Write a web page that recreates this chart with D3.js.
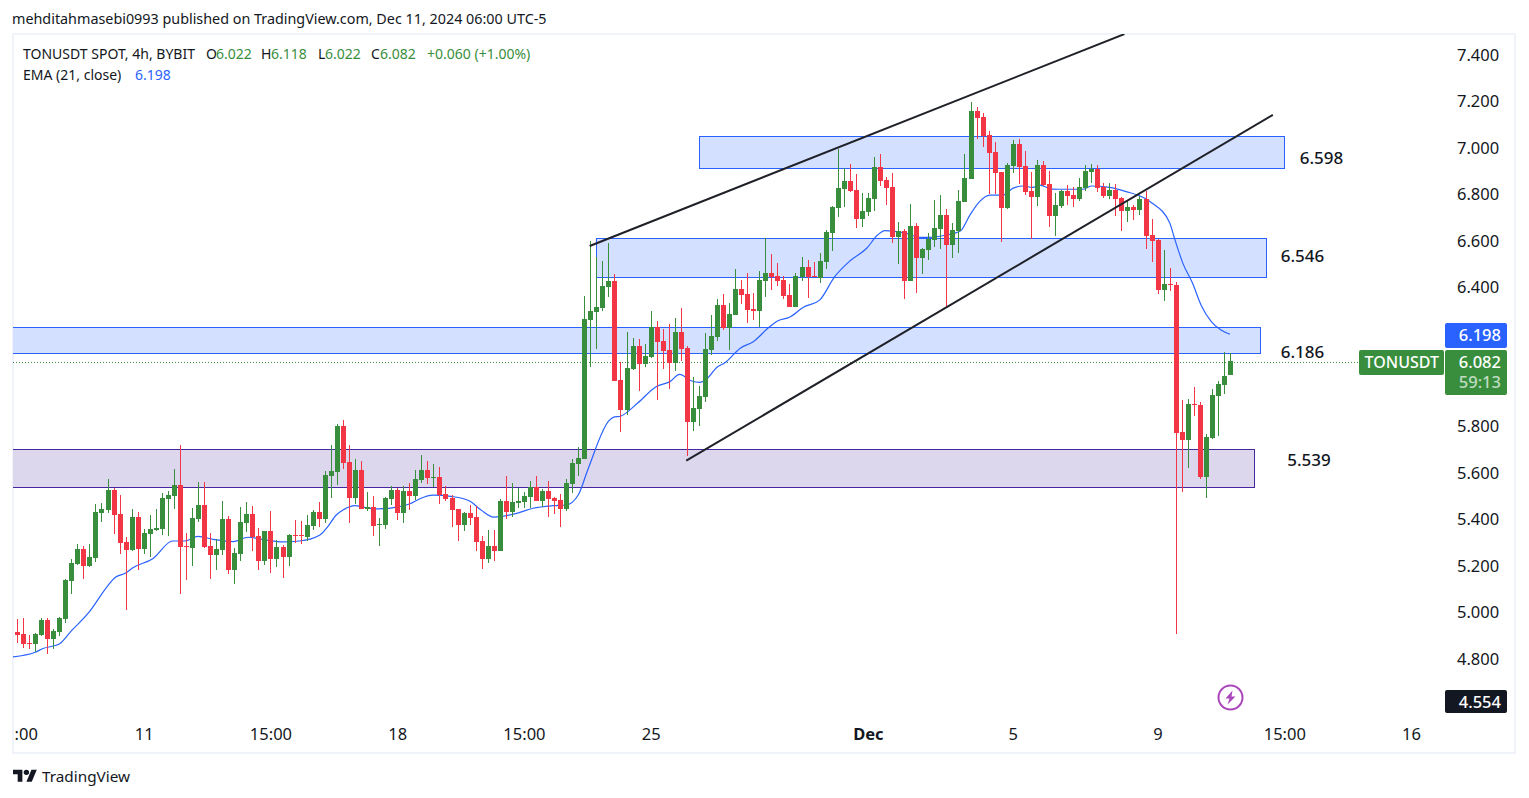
<!DOCTYPE html>
<html lang="en">
<script src="https://d3js.org/d3.v7.min.js"></script>
<style>
    html, body {margin: 0; background: white;}
    svg {display: block;}
    text {font-family: "Noto Sans", sans-serif; fill: #131722;}
    .axis text {font-size: 16.5px;}
    .axis path, .axis line {display: none;}
    .legend text {font-size: 14px;}
    .note {font-size: 17px; text-anchor: middle; font-weight: 500;}
</style>
<body>
    <svg width="1529" height="798"></svg>
</body>
<script>
    var opens = [
        4.916,4.908,4.869,4.866,4.903,4.968,4.886,4.916,4.972,5.136,
        5.209,5.274,5.200,5.235,5.429,5.441,5.528,5.424,5.304,5.269,
        5.411,5.274,5.338,5.355,5.360,5.489,5.502,5.549,5.286,5.278,
        5.403,5.463,5.286,5.248,5.269,5.403,5.183,5.252,5.385,5.424,
        5.330,5.222,5.351,5.231,5.282,5.239,5.334,5.334,5.325,5.373,
        5.433,5.403,5.588,5.605,5.803,5.648,5.493,5.614,5.446,5.454,
        5.377,5.377,5.489,5.528,5.429,5.523,5.502,5.571,5.614,5.579,
        5.583,5.510,5.493,5.446,5.377,5.429,5.411,5.308,5.231,5.286,
        5.265,5.480,5.433,5.472,5.476,5.497,5.539,5.480,5.523,5.493,
        5.485,5.446,5.553,5.639,5.661,6.259,6.293,6.310,6.401,6.427,
        6.000,5.872,6.048,6.147,6.070,6.100,6.229,6.169,6.130,6.074,
        6.207,6.139,5.820,5.876,5.928,6.130,6.186,6.324,6.225,6.281,
        6.393,6.371,6.307,6.298,6.427,6.462,6.449,6.431,6.367,6.315,
        6.444,6.487,6.449,6.440,6.509,6.634,6.741,6.823,6.857,6.819,
        6.694,6.724,6.780,6.918,6.862,6.832,6.617,6.642,6.427,6.664,
        6.526,6.560,6.604,6.651,6.711,6.582,6.642,6.767,6.866,7.159,
        7.133,7.056,6.982,6.896,6.741,6.922,7.017,6.922,6.815,6.789,
        6.926,6.845,6.707,6.750,6.814,6.797,6.780,6.827,6.896,6.909,
        6.832,6.793,6.819,6.784,6.728,6.746,6.733,6.780,6.625,6.604,
        6.388,6.414,6.410,5.777,5.743,5.898,5.893,5.583,5.751,5.932,
        5.979,6.022
    ];
    var highs = [
        4.971,4.977,4.903,4.912,4.977,4.977,4.929,4.979,5.143,5.231,
        5.295,5.286,5.295,5.467,5.472,5.575,5.536,5.506,5.325,5.446,
        5.433,5.360,5.420,5.446,5.515,5.523,5.618,5.721,5.342,5.450,
        5.562,5.562,5.342,5.317,5.480,5.416,5.278,5.454,5.476,5.459,
        5.364,5.351,5.437,5.312,5.291,5.338,5.398,5.394,5.420,5.441,
        5.476,5.609,5.721,5.812,5.829,5.721,5.661,5.652,5.519,5.502,
        5.407,5.497,5.545,5.536,5.545,5.558,5.614,5.678,5.652,5.639,
        5.627,5.545,5.506,5.446,5.433,5.463,5.459,5.330,5.355,5.355,
        5.489,5.588,5.558,5.536,5.519,5.566,5.588,5.532,5.566,5.497,
        5.510,5.575,5.661,5.713,6.362,6.599,6.530,6.513,6.590,6.457,
        6.078,6.207,6.181,6.177,6.156,6.298,6.255,6.220,6.242,6.268,
        6.311,6.147,6.014,5.975,6.203,6.281,6.350,6.371,6.333,6.479,
        6.431,6.462,6.375,6.469,6.612,6.543,6.505,6.449,6.414,6.462,
        6.530,6.517,6.509,6.548,6.647,6.750,6.995,6.913,6.931,6.888,
        6.806,6.806,6.961,6.974,6.875,6.892,6.681,6.651,6.759,6.677,
        6.569,6.634,6.776,6.797,6.737,6.677,6.819,6.974,7.198,7.176,
        7.150,7.073,7.025,6.896,6.935,7.034,7.038,6.987,6.896,6.948,
        6.943,6.901,6.806,6.819,6.840,6.832,6.870,6.926,6.931,6.926,
        6.849,6.849,6.845,6.789,6.776,6.754,6.793,6.814,6.694,6.608,
        6.560,6.483,6.423,5.915,5.919,5.971,5.906,5.768,5.962,5.997,
        6.121,6.118
    ];
    var lows = [
        4.870,4.849,4.845,4.832,4.899,4.822,4.845,4.899,4.955,5.080,
        5.205,5.144,5.196,5.218,5.390,5.429,5.338,5.252,5.011,5.265,
        5.183,5.252,5.239,5.351,5.334,5.330,5.446,5.080,5.140,5.200,
        5.390,5.278,5.144,5.183,5.248,5.166,5.123,5.222,5.347,5.265,
        5.183,5.205,5.170,5.196,5.149,5.200,5.299,5.295,5.308,5.355,
        5.368,5.385,5.493,5.549,5.618,5.385,5.467,5.446,5.437,5.330,
        5.286,5.360,5.463,5.398,5.385,5.441,5.485,5.558,5.553,5.540,
        5.467,5.480,5.368,5.308,5.351,5.377,5.265,5.187,5.213,5.222,
        5.265,5.403,5.411,5.450,5.450,5.450,5.480,5.454,5.411,5.424,
        5.368,5.437,5.515,5.588,5.661,6.057,6.134,6.298,6.358,5.996,
        5.777,5.850,6.043,5.953,6.057,6.096,5.915,6.048,5.962,6.040,
        6.083,5.674,5.781,5.803,5.906,6.109,6.169,6.216,6.130,6.281,
        6.328,6.246,6.259,6.229,6.358,6.388,6.405,6.350,6.315,6.315,
        6.427,6.354,6.444,6.419,6.479,6.556,6.702,6.746,6.810,6.655,
        6.660,6.707,6.728,6.836,6.754,6.591,6.500,6.350,6.427,6.375,
        6.457,6.517,6.573,6.565,6.315,6.526,6.548,6.767,6.866,7.038,
        7.004,6.802,6.802,6.595,6.737,6.892,6.845,6.797,6.608,6.750,
        6.836,6.660,6.621,6.741,6.754,6.744,6.771,6.814,6.849,6.810,
        6.784,6.780,6.707,6.642,6.681,6.690,6.711,6.565,6.509,6.371,
        6.341,6.384,4.907,5.519,5.622,5.846,5.575,5.493,5.747,5.760,
        5.941,6.022
    ];
    var closes = [
        4.903,4.866,4.866,4.908,4.968,4.886,4.921,4.975,5.140,5.213,
        5.274,5.200,5.239,5.433,5.446,5.528,5.420,5.299,5.269,5.411,
        5.274,5.342,5.360,5.364,5.493,5.506,5.549,5.282,5.282,5.407,
        5.463,5.282,5.248,5.274,5.403,5.183,5.256,5.390,5.424,5.325,
        5.222,5.351,5.231,5.282,5.239,5.334,5.330,5.330,5.377,5.433,
        5.403,5.592,5.609,5.803,5.644,5.493,5.614,5.446,5.454,5.373,
        5.381,5.493,5.528,5.429,5.523,5.502,5.575,5.614,5.579,5.583,
        5.506,5.489,5.441,5.377,5.429,5.407,5.304,5.231,5.286,5.265,
        5.480,5.433,5.476,5.480,5.502,5.539,5.480,5.523,5.489,5.480,
        5.446,5.558,5.644,5.665,6.264,6.298,6.315,6.405,6.427,5.996,
        5.872,6.052,6.147,6.070,6.104,6.229,6.164,6.126,6.074,6.207,
        6.134,5.820,5.880,5.932,6.134,6.190,6.324,6.225,6.285,6.393,
        6.367,6.302,6.298,6.431,6.462,6.443,6.427,6.362,6.315,6.449,
        6.487,6.444,6.444,6.513,6.638,6.746,6.827,6.857,6.815,6.694,
        6.728,6.784,6.918,6.857,6.827,6.617,6.642,6.427,6.664,6.526,
        6.565,6.608,6.655,6.711,6.582,6.647,6.771,6.871,7.159,7.129,
        7.051,6.978,6.892,6.741,6.926,7.017,6.918,6.810,6.789,6.926,
        6.840,6.707,6.754,6.814,6.793,6.780,6.832,6.901,6.909,6.827,
        6.793,6.819,6.780,6.728,6.746,6.733,6.780,6.621,6.599,6.388,
        6.414,6.410,5.773,5.743,5.898,5.893,5.583,5.756,5.936,5.984,
        6.018,6.082
    ];

    // EMA at these bars
    var emaBars = [-0.7,3,4.3,7,9,11.8,15,16.2,18,19.2,22.5,25.8,27.8,30,32.5,35.8,38.3,41.3,44,46.8,
        50.2,51.5,52.9,54,56,57.6,59.8,63.4,65,66.7,68.9,72.2,75,76.9,79,82.8,85.5,88.8,91,93,
        94.6,98.1,98.8,100.1,102.9,105.9,108.2,109.8,111.7,113.1,114.5,115.9,117.3,119.8,122,124.7,126.1,128,130.3,133,
        135.5,138,140.8,142.6,143.8,145.2,147.4,149.6,151.2,154,156.3,157.9,159.5,161.2,163.4,165,166.7,168.3,169.5,171.4,
        173.9,176.6,178,181,183.8,186.9,188,191,191.8,193.2,194.8,196.2,197.9,199.5,201];
    var emaValues = [4.809,4.829,4.845,4.865,4.921,4.997,5.114,5.150,5.170,5.193,5.232,5.308,5.308,5.328,5.315,5.305,5.324,5.312,5.304,5.308,
        5.334,5.370,5.420,5.441,5.460,5.453,5.446,5.456,5.467,5.489,5.505,5.499,5.480,5.441,5.411,5.427,5.449,5.460,5.463,5.506,
        5.616,5.826,5.840,5.846,5.903,5.972,5.994,6.025,5.998,5.991,6.011,6.054,6.075,6.137,6.166,6.230,6.256,6.271,6.314,6.345,
        6.446,6.513,6.568,6.625,6.644,6.642,6.632,6.615,6.615,6.625,6.642,6.711,6.769,6.797,6.797,6.826,6.836,6.830,6.840,6.823,
        6.822,6.822,6.836,6.830,6.812,6.783,6.764,6.678,6.611,6.503,6.417,6.324,6.252,6.216,6.198];

    var zoneStart = [113,95.9,-2,-2];
    var zoneEnd = [210,206.9,205.9,204.9];
    var zoneTop = [7.051,6.612,6.229,5.704];
    var zoneBottom = [6.914,6.444,6.117,5.540];
    var zoneFill = ["#d4e0ff","#d4e0ff","#d4e0ff","#dcd7ed"];
    var zoneStroke = ["#2962ff","#2962ff","#2962ff","#4527a0"];

    var trendBars = [[94.9,183.5],[110.9,208.1]];
    var trendPrices = [[6.578,7.49],[5.654,7.142]];

    var notes = ["6.598","6.546","6.186","5.539"];
    var noteX = [1321.5,1302.5,1302.5,1309];
    var noteY = [158,256,352,460];

    var priceTicks = [7.4,7.2,7.0,6.8,6.6,6.4,5.8,5.6,5.4,5.2,5.0,4.8];
    var timeBars = [1.45,21,42,63,84,105,141,165,189,210,231];
    var timeLabels = [":00","11","15:00","18","15:00","25","Dec","5","9","15:00","16"];

    var green = "#388e3c", red = "#f23645", blue = "#2962ff";

    var svg = d3.select("svg");
    var x = d3.scaleLinear().domain([0,201]).range([17,1230]);
    var y = d3.scaleLinear().domain([4.8,7.4]).range([659,55]);

    svg.append("defs").append("clipPath").attr("id","pane").append("rect")
        .attr("x",13).attr("y",34).attr("width",1502).attr("height",718);

    svg.append("rect").attr("x",13).attr("y",34).attr("width",1502).attr("height",719)
        .attr("fill","white").attr("stroke","#f0f3fa").attr("stroke-width",2);

    svg.append("text").attr("x",12).attr("y",24).style("font-size","14.35px")
        .text("mehditahmasebi0993 published on TradingView.com, Dec 11, 2024 06:00 UTC-5");

    var pane = svg.append("g").attr("clip-path","url(#pane)");

    // zones
    pane.selectAll(".zone").data(zoneTop).enter().append("rect").attr("class","zone")
        .attr("x",function(d,i){return Math.round(x(zoneStart[i]))+0.5;})
        .attr("y",function(d){return Math.round(y(d))+0.5;})
        .attr("width",function(d,i){return Math.round(x(zoneEnd[i]))-Math.round(x(zoneStart[i]));})
        .attr("height",function(d,i){return Math.round(y(zoneBottom[i]))-Math.round(y(d));})
        .attr("fill",function(d,i){return zoneFill[i];})
        .attr("stroke",function(d,i){return zoneStroke[i];});

    // last price line
    var lastY = Math.round(y(closes[closes.length-1]))+1.5;
    pane.append("line").attr("x1",13).attr("x2",1359).attr("y1",lastY).attr("y2",lastY)
        .attr("stroke",green).attr("stroke-dasharray","1,2");

    // ema
    var emaLine = d3.line().x(function(d,i){return x(emaBars[i]);}).y(function(d){return y(d);}).curve(d3.curveMonotoneX);
    pane.append("path").attr("d",emaLine(emaValues)).attr("fill","none").attr("stroke",blue).attr("stroke-width",1.2);

    // candles
    var candle = pane.selectAll(".candle").data(closes).enter().append("g").attr("class","candle")
        .attr("shape-rendering","crispEdges")
        .attr("fill",function(d,i){return d>=opens[i]?green:red;});
    candle.append("rect")
        .attr("x",function(d,i){return Math.round(x(i));})
        .attr("y",function(d,i){return Math.round(y(highs[i]));})
        .attr("width",1)
        .attr("height",function(d,i){return Math.max(1,Math.round(y(lows[i]))-Math.round(y(highs[i])));});
    candle.append("rect")
        .attr("x",function(d,i){return Math.round(x(i))-2;})
        .attr("y",function(d,i){return Math.round(y(Math.max(d,opens[i])));})
        .attr("width",5)
        .attr("height",function(d,i){return Math.max(1,Math.round(y(Math.min(d,opens[i])))-Math.round(y(Math.max(d,opens[i]))));});

    // trend lines
    pane.selectAll(".trend").data(trendBars).enter().append("line").attr("class","trend")
        .attr("x1",function(d){return x(d[0]);})
        .attr("x2",function(d){return x(d[1]);})
        .attr("y1",function(d,i){return y(trendPrices[i][0]);})
        .attr("y2",function(d,i){return y(trendPrices[i][1]);})
        .attr("stroke","#1f2128").attr("stroke-width",2);

    svg.selectAll(".note").data(notes).enter().append("text").attr("class","note")
        .attr("x",function(d,i){return noteX[i];})
        .attr("y",function(d,i){return noteY[i]+6;})
        .text(function(d){return d;});

    // axes
    var priceAxis = d3.axisRight(y).tickValues(priceTicks).tickSize(0).tickPadding(0).tickFormat(d3.format(".3f"));
    svg.append("g").attr("class","axis").attr("transform","translate(1457,0)").call(priceAxis)
        .attr("font-family",null).attr("font-size",null);

    var timeAxis = d3.axisBottom(x).tickValues(timeBars).tickSize(0).tickPadding(0)
        .tickFormat(function(d,i){return timeLabels[i];});
    var timeG = svg.append("g").attr("class","axis").attr("transform","translate(0,728)").call(timeAxis)
        .attr("font-family",null).attr("font-size",null);
    timeG.selectAll("text").filter(function(d,i){return timeLabels[i]=="Dec";}).style("font-weight","bold");

    // legend
    var legend = svg.append("g").attr("class","legend");
    var legendParts = [
        ["TONUSDT SPOT, 4h, BYBIT",23,59,"#131722"],
        ["O",206,59,"#131722"],["6.022",216,59,green],
        ["H",261,59,"#131722"],["6.118",271,59,green],
        ["L",318,59,"#131722"],["6.022",325,59,green],
        ["C",371,59,"#131722"],["6.082",380,59,green],
        ["+0.060 (+1.00%)",427,59,green],
        ["EMA (21, close)",23,80,"#131722"],["6.198",135,80,blue]
    ];
    legend.selectAll("text").data(legendParts).enter().append("text")
        .attr("x",function(d){return d[1];}).attr("y",function(d){return d[2];})
        .style("fill",function(d){return d[3];})
        .text(function(d){return d[0];});

    // price labels on the right
    function priceBox(bx,by,w,h,color){
        svg.append("rect").attr("x",bx).attr("y",by).attr("width",w).attr("height",h).attr("rx",2).attr("fill",color);
    }
    function boxText(tx,ty,txt,op,size){
        svg.append("text").attr("x",tx).attr("y",ty).style("fill","white").style("font-size",size+"px")
            .style("fill-opacity",op).style("text-anchor","end").style("font-weight","500").text(txt);
    }
    priceBox(1445,323,62,25,blue);
    boxText(1501,341,"6.198",1,16.5);
    priceBox(1445,350,62,45,green);
    boxText(1501,368,"6.082",1,16.5);
    boxText(1501,388,"59:13",0.7,16.5);
    priceBox(1359,350,85,25,green);
    boxText(1439,368,"TONUSDT",1,16);
    priceBox(1445,690,62,23,"#131722");
    boxText(1501,708,"4.554",1,16.5);

    // lightning mark
    var bolt = svg.append("g").attr("transform","translate(1230.5,697.5)");
    bolt.append("circle").attr("r",12).attr("fill","white").attr("stroke","#ab47bc").attr("stroke-width",2);
    bolt.append("path").attr("d","M2,-7 L-5,1 L-1,1 L-3,7 L5,-1 L1,-1 Z").attr("fill","#ab47bc");

    // logo
    var logo = svg.append("g").attr("transform","translate(13,767) scale(0.67)").attr("fill","#131722");
    logo.append("path").attr("d","M14 22H7V11H0V4h14v18zM28 22h-8l7.5-18h8L28 22z");
    logo.append("circle").attr("cx",20).attr("cy",8).attr("r",4);
    svg.append("text").attr("x",42).attr("y",782).style("font-size","15.3px").text("TradingView");
</script>
</html>
